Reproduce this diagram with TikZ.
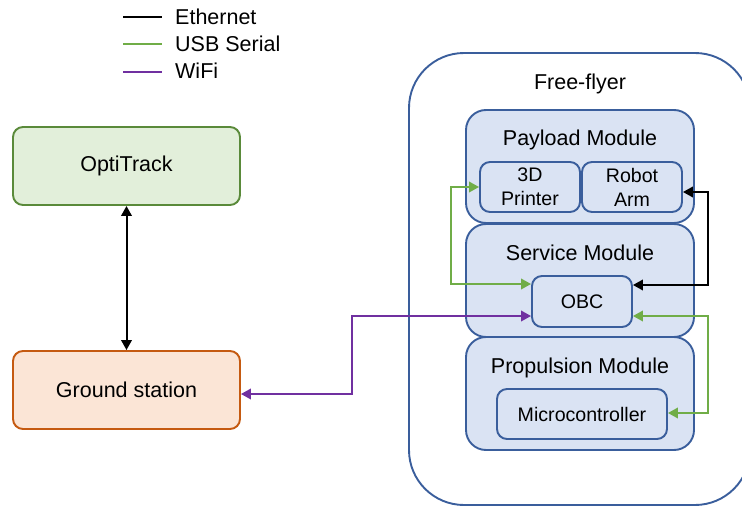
\documentclass[tikz,border=0pt]{standalone}
\usepackage{fontspec}
\setmainfont{Liberation Sans}
\usetikzlibrary{arrows.meta,calc}

\definecolor{modfill}{HTML}{DAE3F3}
\definecolor{modline}{HTML}{3A5E9C}
\definecolor{optfill}{HTML}{E2EFDA}
\definecolor{optline}{HTML}{5A8A3A}
\definecolor{gsfill}{HTML}{FBE5D6}
\definecolor{gsline}{HTML}{C55A11}
\definecolor{usbgreen}{HTML}{70AD47}
\definecolor{wifipurple}{HTML}{7030A0}

\tikzset{
  bigtext/.style={font=\fontsize{21.5}{25}\selectfont},
  smalltext/.style={font=\fontsize{19.6}{24}\selectfont},
  box/.style={draw, line width=1.9pt, rounded corners=10pt, inner sep=0pt, align=center},
  module/.style={box, fill=modfill, draw=modline, rounded corners=20pt, minimum width=228pt, minimum height=113pt},
  subbox/.style={box, smalltext, fill=modfill, draw=modline, minimum height=50pt},
  link/.style={line width=2pt, {Triangle[length=10pt,width=10.5pt]}-{Triangle[length=10pt,width=10.5pt]}},
  eth/.style={link, draw=black},
  usb/.style={link, draw=usbgreen},
  wifi/.style={link, draw=wifipurple},
  legline/.style={line width=2pt},
  legtext/.style={bigtext, anchor=west, inner sep=0pt},
}

\begin{document}
\begin{tikzpicture}[x=1pt,y=-1pt]
\useasboundingbox (0,0) rectangle (742,506);
\clip (0,0) rectangle (742,506);

% legend
\coordinate (l1a) at (123,17);  \coordinate (l1b) at (162,17);
\coordinate (l2a) at (123,44);  \coordinate (l2b) at (162,44);
\coordinate (l3a) at (123,72);  \coordinate (l3b) at (162,72);
\draw[legline, black] (l1a) -- (l1b);
\draw[legline, usbgreen] (l2a) -- (l2b);
\draw[legline, wifipurple] (l3a) -- (l3b);
\node[legtext] (legeth) at (175,17) {Ethernet};
\node[legtext] (legusb) at (175,44) {USB Serial};
\node[legtext] (legwifi) at (175,71) {WiFi};

% ground segment
\node[box, bigtext, fill=optfill, draw=optline, minimum width=227pt, minimum height=78pt] (opti) at (126.5,166) {OptiTrack};
\node[box, bigtext, fill=gsfill, draw=gsline, minimum width=227pt, minimum height=78pt] (ground) at (126.5,390) {Ground station};

% free-flyer container
\node[box, draw=modline, fill=white, rounded corners=55pt, minimum width=341pt, minimum height=452pt] (ff) at (579.5,279) {};
\node[bigtext] (fflabel) at (580,84) {Free-flyer};

% modules
\node[module] (payload) at (580,166.5) {};
\node[module] (service) at (580,280.5) {};
\node[module] (prop) at (580,393.5) {};
\node[bigtext] (payloadlabel) at (580,140) {Payload Module};
\node[bigtext] (servicelabel) at (580,253) {Service Module};
\node[bigtext] (proplabel) at (580,368) {Propulsion Module};

% components
\node[subbox, minimum width=100pt] (printer) at (530,187) {3D\\Printer};
\node[subbox, minimum width=100pt] (arm) at (632,187) {Robot\\Arm};
\node[subbox, minimum width=100pt, minimum height=51pt] (obc) at (582,301.5) {OBC};
\node[subbox, minimum width=170pt] (micro) at (582,414) {Microcontroller};

% connections
\draw[eth] (opti.south) -- (ground.north);
\draw[usb] (printer.west) -- ++(-28,0) |- ($(obc.west)+(0,-17.5)$);
\draw[eth] ($(arm.east)+(0,5)$) -- ++(25,0) |- ($(obc.east)+(0,-16.5)$);
\draw[usb] ($(obc.east)+(0,14.5)$) -- ++(75,0) |- ($(micro.east)+(0,-1)$);
\draw[wifi] ($(obc.west)+(0,14.5)$) -- ++(-179,0) |- ($(ground.east)+(0,4)$);
\end{tikzpicture}
\end{document}
